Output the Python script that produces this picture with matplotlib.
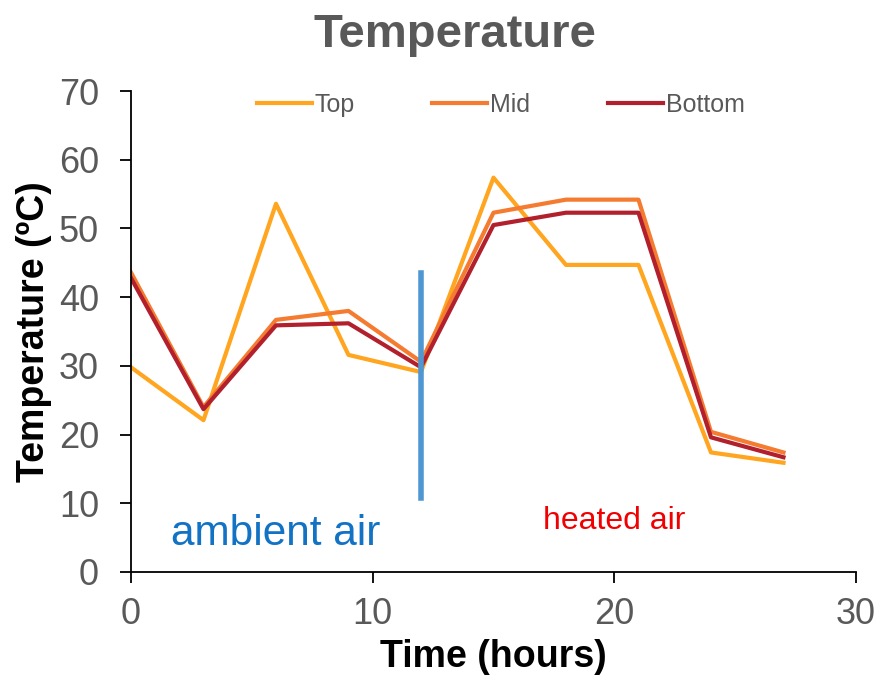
import matplotlib
matplotlib.use("Agg")
import matplotlib.pyplot as plt

plt.rcParams['font.family'] = ['Liberation Sans', 'DejaVu Sans']

hours = [0, 3, 6, 9, 12, 15, 18, 21, 24, 27]
top = [29.8, 22.1, 53.6, 31.6, 29.1, 57.4, 44.7, 44.7, 17.4, 15.9]
mid = [43.6, 24.0, 36.7, 38.0, 30.6, 52.3, 54.2, 54.2, 20.4, 17.4]
bottom = [42.8, 23.7, 35.9, 36.2, 29.8, 50.5, 52.3, 52.3, 19.6, 16.7]

switch_hour = 12
switch_span = (10.7, 43.5)

gray = "#595959"

fig = plt.figure(figsize=(8.82, 6.86), dpi=100)
ax = fig.add_axes([0.1485, 0.1662, 0.822, 0.701])

ax.plot(hours, top, color="#FFA51F", lw=3, label="Top")
ax.plot(hours, mid, color="#F47B30", lw=3, label="Mid")
ax.plot(hours, bottom, color="#B21F2D", lw=3, label="Bottom")
ax.plot([switch_hour, switch_hour], switch_span, color="#4F97D3", lw=4)

ax.text(6.0, 4.0, "ambient air", color="#1272C4", fontsize=30.5, ha="center", va="baseline")
ax.text(20.0, 6.2, "heated air", color="#F00000", fontsize=23, ha="center", va="baseline")

ax.set_xlim(0, 30)
ax.set_ylim(0, 70)
ax.set_xticks([0, 10, 20, 30])
ax.set_yticks(range(0, 71, 10))
ax.tick_params(axis="both", labelsize=26, labelcolor=gray, length=8, width=1.3, direction="out")
ax.tick_params(axis="y", pad=15)
ax.tick_params(axis="x", pad=10)
for s in ["top", "right"]:
    ax.spines[s].set_visible(False)
for s in ["left", "bottom"]:
    ax.spines[s].set_linewidth(1.3)

ax.set_xlabel("Time (hours)", fontsize=27, fontweight="bold", labelpad=5)
ax.set_ylabel("Temperature (ºC)", fontsize=27, fontweight="bold", labelpad=5)
fig.text(0.516, 0.9315, "Temperature", fontsize=34, fontweight="bold", color=gray,
         ha="center", va="baseline")

leg = ax.legend(loc="center", ncol=3, frameon=False, fontsize=18,
                bbox_to_anchor=(0.51, 0.971), columnspacing=3.1, handlelength=2.2,
                handletextpad=0.12)
for t in leg.get_texts():
    t.set_color(gray)

fig.savefig("out.png", dpi=100)
